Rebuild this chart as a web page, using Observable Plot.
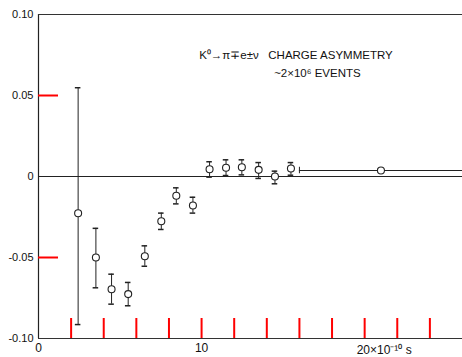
<!DOCTYPE html>
<html>
<head>
<meta charset="utf-8">
<script src="https://cdn.jsdelivr.net/npm/d3@7"></script>
<script src="https://cdn.jsdelivr.net/npm/@observablehq/plot@0.6"></script>
<style>
  html, body { margin: 0; padding: 0; background: #fff; }
</style>
</head>
<body>
<div id="chart"></div>
<script>
// Time (units of 1e-10 s)
const tValues = [2.43, 3.52, 4.48, 5.5, 6.52, 7.53, 8.45, 9.47, 10.49, 11.5, 12.47, 13.5, 14.5, 15.48, 21.0];
// Charge asymmetry
const asym = [-0.0227, -0.050, -0.0696, -0.0726, -0.0492, -0.0276, -0.0119, -0.0179, 0.0045, 0.0054, 0.0057, 0.0041, 0.0, 0.0049, 0.0037];
const asymLow = [-0.0914, -0.0687, -0.0788, -0.0798, -0.0554, -0.0327, -0.0169, -0.0226, -0.0004, 0.0006, 0.001, -0.0012, -0.0045, 0.0008, 0.0027];
const asymHigh = [0.0548, -0.032, -0.0603, -0.0654, -0.0428, -0.0226, -0.0070, -0.0128, 0.0091, 0.0103, 0.0103, 0.0086, 0.0033, 0.0086, 0.0047];
// Horizontal bin of the last point
const lastBin = [{t1: 16.0, t2: 26.5, y: 0.0037}];

const xTicks = [2, 4, 6, 8, 10, 12, 14, 16, 18, 20, 22, 24];
const xTickLabels = [{t: 0, label: "0"}, {t: 10, label: "10"}];
const xUnitLabel = [{t: 20, label: "20×10⁻¹⁰ s"}];
const yTicks = [-0.05, 0.05];
const yLabelTicks = [-0.10, -0.05, 0, 0.05, 0.10];
const yTickLabels = ["-0.10", "-0.05", "0", "0.05", "0.10"];

const titleLines = [
  {t: 9.85, y: 0.0745, label: "K⁰→π∓e±ν   CHARGE ASYMMETRY"},
  {t: 14.45, y: 0.0635, label: "~2×10⁶ EVENTS"}
];

const data = tValues.map((t, i) => ({t, y: asym[i], lo: asymLow[i], hi: asymHigh[i]}));
const capHalf = 0.17;

const W = 462, H = 357, mL = 38, mR = 0, mT = 14, mB = 19;
const xDom = [0, 26], yDom = [-0.10, 0.10];
const innerW = W - mL - mR, innerH = H - mT - mB;
// tick lengths in pixels converted to data units
const xTickLen = 20 * (yDom[1] - yDom[0]) / innerH;
const yTickLen = 20 * (xDom[1] - xDom[0]) / innerW;
const xTickData = xTicks.map(t => ({t, a: yDom[0], b: yDom[0] + xTickLen}));
const yTickData = yTicks.map(v => ({v, a: xDom[0], b: xDom[0] + yTickLen}));

const font = "Liberation Sans, Arial, sans-serif";

const chart = Plot.plot({
  width: W,
  height: H,
  marginLeft: mL,
  marginRight: mR,
  marginTop: mT,
  marginBottom: mB,
  style: {fontFamily: font, fontSize: "11px", background: "#fff", color: "#111"},
  x: {domain: xDom},
  y: {domain: yDom},
  marks: [
    // frame
    Plot.ruleX([0], {stroke: "#222", strokeWidth: 1.2}),
    Plot.ruleY([-0.10, 0.10], {stroke: "#333", strokeWidth: 1}),
    // zero line
    Plot.ruleY([0], {stroke: "#222", strokeWidth: 1}),
    // inward ticks
    Plot.ruleX(xTickData, {x: "t", y1: "a", y2: "b", stroke: "red", strokeWidth: 2}),
    Plot.ruleY(yTickData, {y: "v", x1: "a", x2: "b", stroke: "red", strokeWidth: 2}),
    // tick labels
    Plot.axisX({ticks: xTickLabels.map(d => d.t), tickFormat: d => xTickLabels.find(e => e.t === d).label,
                tickSize: 0, tickPadding: 5, label: null, fill: "#111", fontSize: 12}),
    Plot.text(xUnitLabel, {x: "t", y: -0.10, text: "label", textAnchor: "start", dx: -8, dy: 12, fontSize: 12, fill: "#111"}),
    Plot.axisY({ticks: yLabelTicks, tickFormat: (d, i) => yTickLabels[i], tickSize: 0, tickPadding: 5, label: null, fill: "#111"}),
    // error bars
    Plot.ruleX(data, {x: "t", y1: "lo", y2: "hi", stroke: "#222", strokeWidth: 1}),
    Plot.ruleY(data, {y: "lo", x1: d => d.t - capHalf, x2: d => d.t + capHalf, stroke: "#222", strokeWidth: 1.5}),
    Plot.ruleY(data, {y: "hi", x1: d => d.t - capHalf, x2: d => d.t + capHalf, stroke: "#222", strokeWidth: 1.5}),
    // horizontal bin of last point
    Plot.ruleY(lastBin, {y: "y", x1: "t1", x2: "t2", stroke: "#222", strokeWidth: 1}),
    Plot.ruleX(lastBin, {x: "t1", y1: d => d.y - 0.002, y2: d => d.y + 0.002, stroke: "#222", strokeWidth: 1}),
    // points
    Plot.dot(data, {x: "t", y: "y", r: 3.5, fill: "#fff", stroke: "#222", strokeWidth: 1.1}),
    // annotation
    Plot.text(titleLines, {x: "t", y: "y", text: "label", textAnchor: "start", fontSize: 11.5, fill: "#111"})
  ]
});
document.getElementById("chart").appendChild(chart);
</script>
</body>
</html>
